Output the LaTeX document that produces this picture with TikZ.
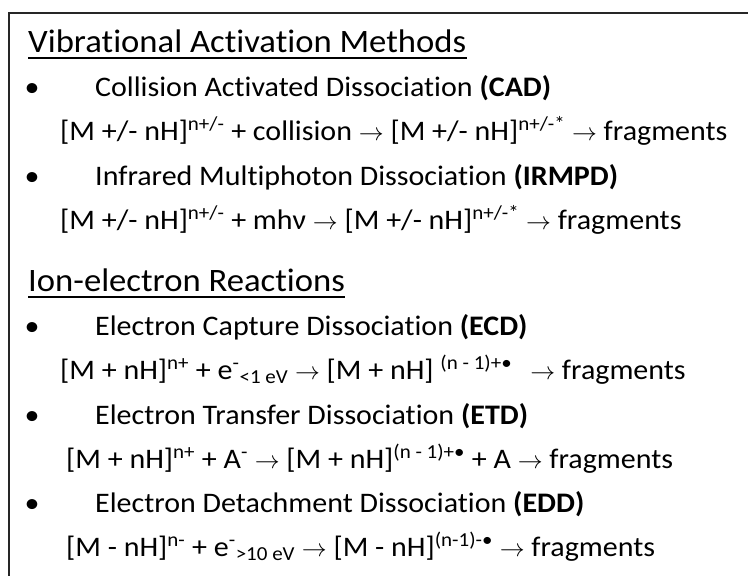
\documentclass[tikz,border=0pt]{standalone}
\usepackage{fontspec}
\setmainfont[FakeStretch=1.06, Ligatures=NoCommon]{Carlito}
\newcommand{\up}[1]{\textsuperscript{#1}}
\newcommand{\dn}[1]{\textsubscript{#1}}
\newcommand{\ra}{$\rightarrow$}
\begin{document}
\begin{tikzpicture}[x=1pt, y=-1pt,
	every node/.style={inner sep=0pt, anchor=base west},
	txt/.style={font=\fontsize{28.3}{32}\selectfont},
	head/.style={font=\fontsize{32.7}{38}\selectfont}]
\useasboundingbox (0,0) rectangle (748,576);
\draw[line width=2pt, black!85] (9,580) -- (9,13) -- (750,13);

% headings
\node[head] (h1) at (28,52) {Vibrational Activation Methods};
\draw[line width=1.6pt] ([yshift=-6pt]h1.base west) -- ([yshift=-6pt]h1.base east);
\node[head] (h2) at (28,291) {Ion-electron Reactions};
\draw[line width=1.6pt] ([yshift=-6pt]h2.base west) -- ([yshift=-6pt]h2.base east);

% bullets
\foreach \y/\n in {96/b1, 185/b2, 335/b3, 424/b4, 512/b5}
{
	\node[txt, anchor=base] (\n) at (32,\y) {•};
}
\node[txt] (t1) at (95,96) {Collision Activated Dissociation \textbf{(CAD)}};
\node[txt] (t2) at (95,185) {Infrared Multiphoton Dissociation \textbf{(IRMPD)}};
\node[txt] (t3) at (95,335) {Electron Capture Dissociation \textbf{(ECD)}};
\node[txt] (t4) at (95,424) {Electron Transfer Dissociation \textbf{(ETD)}};
\node[txt] (t5) at (95,512) {Electron Detachment Dissociation \textbf{(EDD)}};

% reactions
\node[txt] (e1) at (60,140) {[M +/- nH]\up{n+/-} + collision \ra{} [M +/- nH]\up{n+/-*} \ra{} fragments};
\node[txt] (e2) at (60,229) {[M +/- nH]\up{n+/-} + mhν \ra{} [M +/- nH]\up{n+/-*} \ra{} fragments};
\node[txt] (e3) at (60,379) {[M + nH]\up{n+} + e\up{-}\dn{<1 eV} \ra{} [M + nH] \up{(n - 1)+•}\hspace{0.4em} \ra{} fragments};
\node[txt] (e4) at (66,468) {[M + nH]\up{n+} + A\up{-} \ra{} [M + nH]\up{(n - 1)+•} + A \ra{} fragments};
\node[txt] (e5) at (66,556) {[M - nH]\up{n-} + e\up{-}\dn{>10 eV} \ra{} [M - nH]\up{(n-1)-•} \ra{} fragments};
\end{tikzpicture}
\end{document}
